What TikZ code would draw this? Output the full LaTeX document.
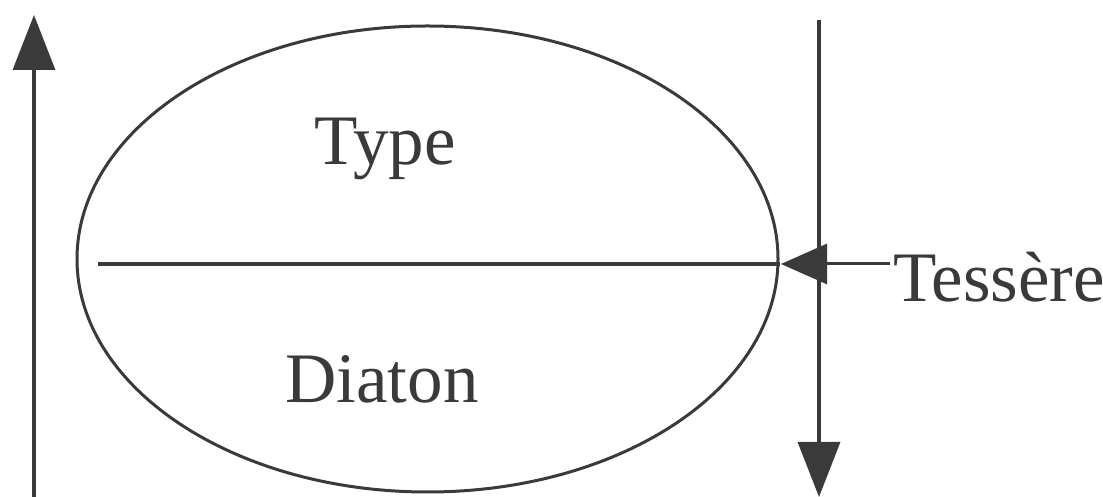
\documentclass[tikz,border=0pt]{standalone}
\usepackage{fontspec}
\setmainfont{Liberation Serif}
\usetikzlibrary{arrows.meta,shapes.geometric}
\definecolor{ink}{RGB}{58,58,58}
\begin{document}
\begin{tikzpicture}[x=1pt,y=1pt,
  ln/.style={draw=ink,line width=3.4pt},
  bigtip/.style={-{Triangle[length=55pt,width=42pt]}},
  lbl/.style={font=\fontsize{71}{71}\selectfont,text=ink,inner sep=0pt,anchor=base}]
\useasboundingbox (0,0) rectangle (1103,497);
% ellipse
\node[ellipse,ln,line width=3pt,minimum width=701pt,minimum height=466pt,inner sep=0pt] (ell) at (427.5,238) {};
% horizontal divider
\coordinate (hl) at (98,233);
\coordinate (hr) at (ell.east |- 0,233);
\draw[ln] (hl) -- (hr);
% left arrow
\coordinate (la) at (34,0);
\coordinate (lb) at (34,482);
\draw[ln,bigtip] (la) -- (lb);
% right arrow
\coordinate (ra) at (819,477);
\coordinate (rb) at (819,0);
\draw[ln,bigtip] (ra) -- (rb);
% labels
\node[lbl] (type) at (385,332) {Type};
\node[lbl] (diaton) at (382,94) {Diaton};
\node[lbl,anchor=base west] (tess) at (893,195) {Tessère};
% Tessère arrow
\coordinate (ts) at (890,233);
\coordinate (te) at (781,233);
\draw[ln,line width=3pt,-{Triangle[length=46pt,width=40pt]}] (ts) -- (te);
\end{tikzpicture}
\end{document}
